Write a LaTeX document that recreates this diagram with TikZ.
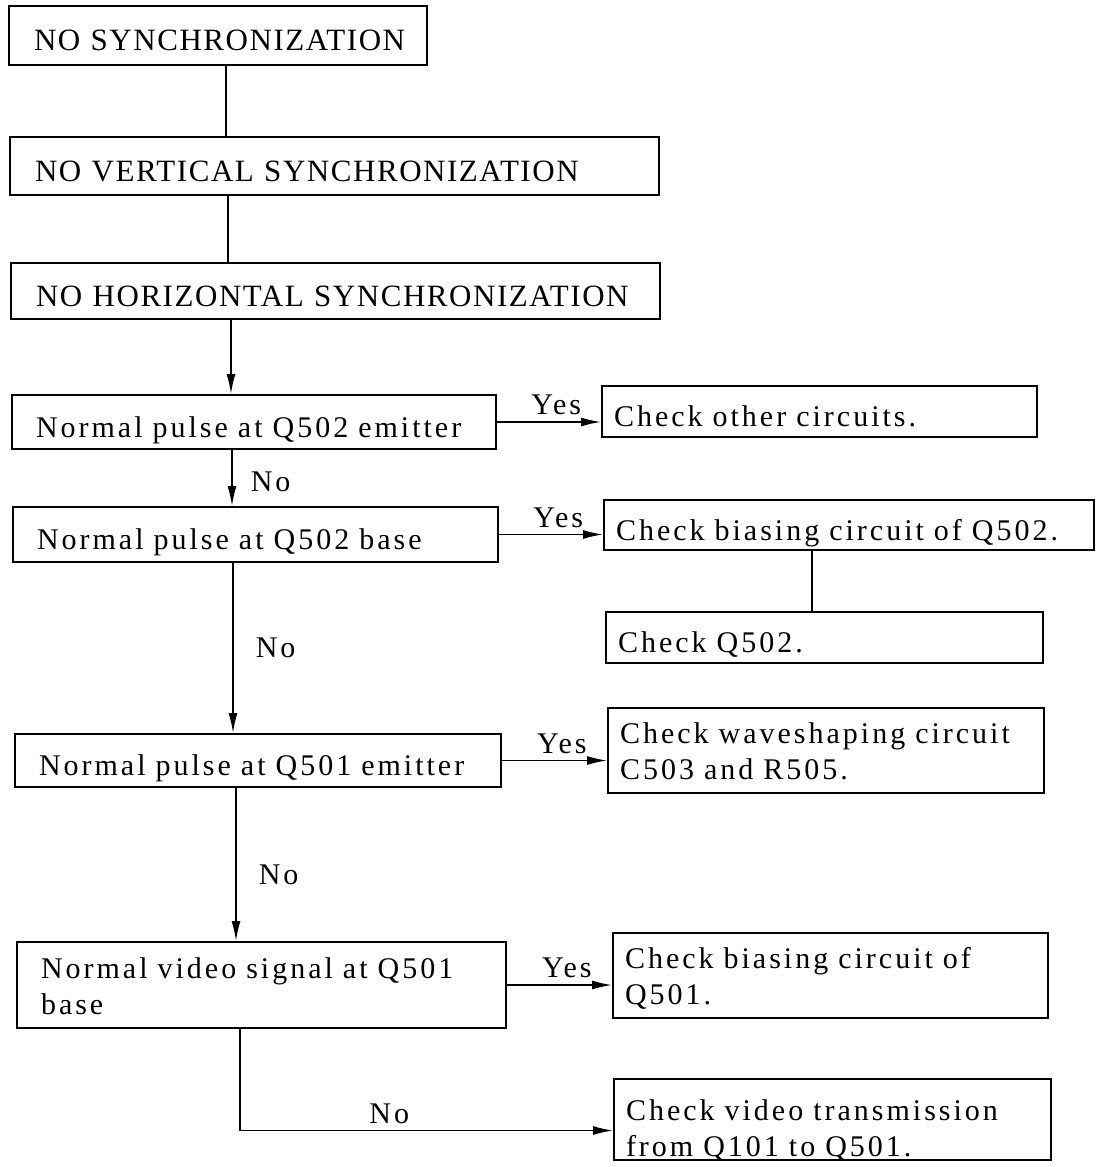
\documentclass[tikz,border=0pt]{standalone}
\usepackage{fontspec}
\setmainfont{Liberation Serif}
\newfontfamily\capsfont{Liberation Serif}[LetterSpace=5]
\newfontfamily\bodyfont{Liberation Serif}[LetterSpace=10]
\usetikzlibrary{arrows.meta}
% keep a one-line label on a single line
\newcommand\oneln[1]{\mbox{#1}}
\begin{document}
\begin{tikzpicture}[x=1pt,y=-1pt,
  every node/.style={font=\fontsize{30}{36}\selectfont\bodyfont},
  boxline/.style={draw,line width=2pt,align=left,inner ysep=0pt},
  oneline/.style={text height=30pt,text depth=0pt},
  twoline/.style={text height=21pt,text depth=35pt},
  headbox/.style={boxline,oneline,inner xsep=25pt,
    font=\fontsize{31}{36}\selectfont\capsfont},
  leftbox/.style={boxline,inner xsep=24pt},
  rightbox/.style={boxline,inner xsep=12pt},
  link/.style={line width=1.6pt},
  flow/.style={line width=1.6pt,-{Latex[length=20pt,width=9pt]}},
  lbl/.style={inner sep=4pt}]
\useasboundingbox (0,0) rectangle (1096,1167);

% main column
\node[headbox,text width=368pt,minimum height=59pt] (b1) at (218,35.5) {\oneln{NO SYNCHRONIZATION}};
\node[headbox,text width=599pt,minimum height=58pt] (b2) at (334.5,166) {\oneln{NO VERTICAL SYNCHRONIZATION}};
\node[headbox,text width=599pt,minimum height=56pt] (b3) at (335.5,291) {\oneln{NO HORIZONTAL SYNCHRONIZATION}};
\node[leftbox,oneline,text width=436pt,minimum height=54pt] (b4) at (254,422) {\oneln{Normal pulse at Q502 emitter}};
\node[leftbox,oneline,text width=437pt,minimum height=55pt] (b5) at (255.5,534.5) {\oneln{Normal pulse at Q502 base}};
\node[leftbox,oneline,text width=438pt,minimum height=53pt] (b6) at (258,760.5) {\oneln{Normal pulse at Q501 emitter}};
\node[leftbox,twoline,text width=441pt,minimum height=86pt] (b7) at (261.5,985) {Normal video signal at Q501\\base};

% action column
\node[rightbox,oneline,text width=411pt,minimum height=51pt] (r1) at (819.5,411.5) {\oneln{Check other circuits.}};
\node[rightbox,oneline,text width=466pt,minimum height=50pt] (r2) at (849,525) {\oneln{Check biasing circuit of Q502.}};
\node[rightbox,oneline,text width=413pt,minimum height=51pt] (r3) at (824.5,637.5) {\oneln{Check Q502.}};
\node[rightbox,twoline,text width=412pt,minimum height=85pt] (r4) at (826,750.5) {Check waveshaping circuit\\C503 and R505.};
\node[rightbox,twoline,text width=411pt,minimum height=85pt] (r5) at (830.5,975.5) {Check biasing circuit of\\Q501.};
\node[rightbox,twoline,text depth=19pt,text width=413pt,minimum height=81pt] (r6) at (832.5,1119.5) {Check video transmission\\from Q101 to Q501.};

% horizontal positions of the vertical connector segments
\coordinate (k1) at (226,0);
\coordinate (k2) at (228,0);
\coordinate (k3) at (231,0);
\coordinate (k4) at (232,0);
\coordinate (k5) at (233,0);
\coordinate (k6) at (236,0);
\coordinate (k7) at (240,0);
\coordinate (k8) at (812,0);

\draw[link] (b1.south -| k1) -- (b2.north -| k1);
\draw[link] (b2.south -| k2) -- (b3.north -| k2);
\draw[flow] (b3.south -| k3) -- (b4.north -| k3);
\draw[flow] (b4.south -| k4) -- node[lbl,right,xshift=14pt,yshift=-4pt] {No} (b5.north -| k4);
\draw[flow] (b5.south -| k5) -- node[lbl,right,xshift=18pt] {No} (b6.north -| k5);
\draw[flow] (b6.south -| k6) -- node[lbl,right,xshift=18pt,yshift=-10pt] {No} (b7.north -| k6);
\draw[flow] (b7.south -| k7) |- node[lbl,above,pos=0.7,yshift=2pt] {No} ([yshift=-11pt]r6.west);

\draw[flow] (b4.east) -- node[lbl,above,pos=0.57,yshift=2pt] {Yes} (b4.east -| r1.west);
\draw[flow] (b5.east) -- node[lbl,above,pos=0.57,yshift=2pt] {Yes} (b5.east -| r2.west);
\draw[flow] (b6.east) -- node[lbl,above,pos=0.57,yshift=2pt] {Yes} (b6.east -| r4.west);
\draw[flow] (b7.east) -- node[lbl,above,pos=0.57,yshift=2pt] {Yes} (b7.east -| r5.west);
\draw[link] (r2.south -| k8) -- (r3.north -| k8);
\end{tikzpicture}
\end{document}
